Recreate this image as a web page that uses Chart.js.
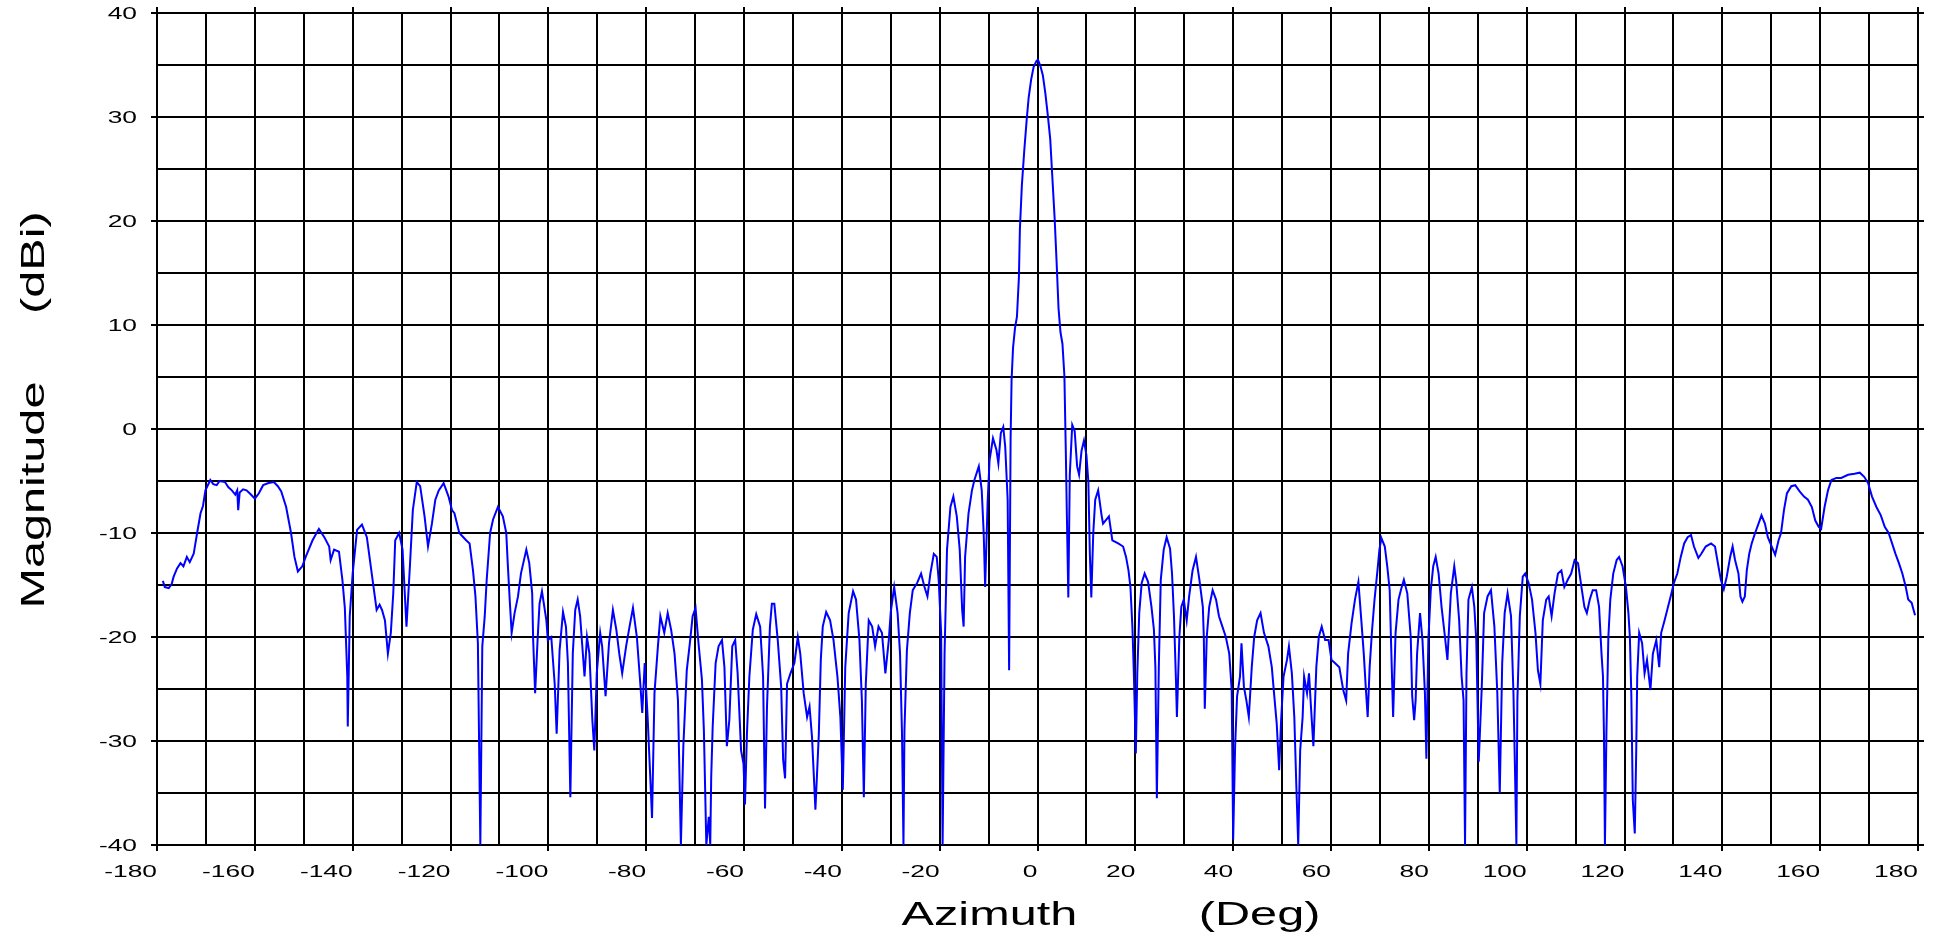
<!DOCTYPE html>
<html lang="en">
<head>
  <meta charset="UTF-8">
  <title>Azimuth Pattern</title>
  <style>
    html, body { margin: 0; padding: 0; background: #fff; }
    #wrap { width: 1942px; height: 938px; }
  </style>
</head>
<body>
  <div id="wrap"><canvas id="patternChart"></canvas></div>

  <script src="https://cdn.jsdelivr.net/npm/chart.js"></script>
  <script>
    const azimuth = [
      -178.8, -178.4, -177.6, -177.0, -176.6, -175.9, -175.2, -174.6, -173.9, -173.3,
      -172.5, -171.8, -171.1, -170.6, -170.1, -169.1, -168.5, -167.8, -167.2, -166.1,
      -165.4, -164.7, -164.0, -163.6, -163.4, -163.1, -162.4, -161.7, -160.8, -160.0,
      -159.2, -158.3, -157.2, -156.1, -155.3, -154.6, -153.6, -152.6, -151.9, -151.2,
      -150.3, -149.6, -148.2, -146.9, -145.8, -144.8, -144.5, -143.8, -142.8, -142.1,
      -141.6, -141.1, -141.0, -140.6, -140.0, -139.1, -138.1, -137.1, -136.1, -135.1,
      -134.5, -134.0, -133.4, -132.8, -132.2, -131.7, -131.3, -130.5, -129.8, -129.0,
      -128.3, -127.7, -126.9, -126.2, -125.3, -124.6, -123.8, -123.1, -122.4, -121.4,
      -120.4, -119.7, -119.2, -118.2, -116.8, -116.1, -115.4, -114.9, -114.4, -113.9,
      -113.5, -113.0, -112.6, -111.9, -111.3, -110.3, -109.3, -108.6, -108.3, -107.9,
      -107.5, -106.9, -106.2, -105.6, -104.5, -103.9, -103.3, -103.1, -102.7, -102.2,
      -101.8, -101.3, -100.4, -100.1, -99.4, -98.7, -98.3, -97.7, -97.0, -96.4,
      -96.0, -95.5, -95.0, -94.5, -94.0, -93.5, -93.1, -92.6, -92.1, -91.6,
      -91.0, -90.6, -90.1, -89.4, -89.0, -88.3, -87.6, -86.8, -86.1, -85.5,
      -84.9, -84.1, -83.4, -82.7, -81.9, -81.2, -80.8, -80.3, -79.7, -78.8,
      -78.3, -77.6, -77.1, -76.3, -75.6, -74.9, -74.2, -73.5, -72.9, -72.4,
      -71.7, -71.0, -70.5, -69.9, -69.3, -68.6, -68.2, -67.7, -67.2, -66.9,
      -66.7, -66.4, -65.8, -65.2, -64.5, -64.0, -63.5, -63.0, -62.4, -61.8,
      -61.3, -60.6, -60.1, -59.8, -59.4, -58.9, -58.2, -57.5, -56.7, -56.1,
      -55.7, -55.3, -54.7, -54.3, -53.8, -53.1, -52.4, -52.0, -51.6, -51.2,
      -50.5, -49.7, -49.0, -48.5, -47.8, -47.1, -46.6, -46.1, -45.4, -44.7,
      -44.3, -43.9, -43.2, -42.4, -41.7, -40.9, -40.3, -39.8, -39.3, -38.6,
      -37.7, -37.1, -36.4, -35.9, -35.5, -35.1, -34.5, -33.8, -33.2, -32.5,
      -31.8, -31.1, -30.4, -30.0, -29.3, -28.6, -28.1, -27.7, -27.4, -27.2,
      -26.7, -26.1, -25.5, -24.6, -23.8, -23.1, -22.5, -21.9, -21.2, -20.6,
      -20.2, -19.7, -19.4, -19.0, -18.5, -17.8, -17.2, -16.5, -15.9, -15.4,
      -15.1, -14.8, -14.1, -13.4, -12.9, -12.0, -11.4, -11.0, -10.7, -10.2,
      -9.8, -9.1, -8.4, -8.0, -7.5, -7.0, -6.6, -6.1, -5.8, -5.5,
      -5.3, -5.0, -4.6, -4.2, -3.8, -3.6, -3.2, -2.7, -2.2, -1.8,
      -1.3, -0.8, -0.2, 0.1, 0.6, 1.1, 1.6, 2.1, 2.6, 3.0,
      3.5, 3.9, 4.3, 4.7, 5.1, 5.5, 5.8, 6.0, 6.3, 6.6,
      7.1, 7.6, 8.1, 8.5, 9.0, 9.5, 10.0, 10.4, 10.7, 11.0,
      11.4, 11.8, 12.4, 13.1, 13.4, 14.6, 15.3, 16.5, 17.5, 18.1,
      18.6, 19.0, 19.4, 19.7, 20.1, 20.4, 20.8, 21.3, 21.9, 22.6,
      23.3, 23.8, 24.1, 24.4, 24.8, 25.2, 25.8, 26.4, 27.1, 27.5,
      27.9, 28.3, 28.5, 29.0, 29.4, 29.9, 30.5, 31.0, 31.7, 32.4,
      33.1, 33.8, 34.0, 34.2, 34.6, 35.1, 35.8, 36.5, 37.1, 37.8,
      38.5, 39.2, 39.7, 40.0, 40.4, 40.8, 41.4, 41.7, 42.2, 42.7,
      43.2, 43.8, 44.3, 44.9, 45.6, 46.3, 47.2, 47.9, 48.3, 48.9,
      49.4, 49.8, 50.3, 51.0, 51.4, 52.0, 52.5, 52.9, 53.3, 53.7,
      54.2, 54.5, 55.1, 55.5, 55.9, 56.4, 57.0, 57.5, 58.1, 58.8,
      59.5, 60.1, 60.8, 61.7, 62.5, 63.1, 63.5, 64.2, 64.9, 65.6,
      66.2, 66.7, 67.1, 67.5, 67.9, 68.4, 68.9, 69.5, 69.9, 70.3,
      71.0, 71.5, 72.0, 72.3, 72.7, 73.2, 73.8, 74.4, 74.9, 75.6,
      76.3, 76.6, 77.0, 77.3, 77.6, 78.2, 78.7, 79.2, 79.5, 79.9,
      80.4, 80.9, 81.4, 82.0, 82.6, 83.3, 83.8, 84.5, 85.2, 85.6,
      86.2, 86.7, 87.1, 87.4, 87.7, 88.1, 88.8, 89.3, 89.7, 90.2,
      90.8, 91.3, 92.0, 92.7, 93.4, 94.0, 94.5, 95.0, 95.5, 96.1,
      96.8, 97.3, 97.6, 97.9, 98.1, 98.6, 99.2, 99.7, 100.4, 101.1,
      101.8, 102.3, 102.8, 103.3, 104.0, 104.5, 105.1, 105.7, 106.4, 107.1,
      107.7, 108.4, 109.1, 109.8, 110.5, 111.2, 111.8, 112.3, 112.9, 113.5,
      114.2, 114.8, 115.3, 115.6, 115.8, 116.0, 116.3, 116.7, 117.1, 117.7,
      118.4, 118.9, 119.6, 120.3, 120.8, 121.1, 121.4, 121.7, 122.1, 122.4,
      122.6, 123.0, 123.6, 124.1, 124.6, 125.3, 125.8, 126.5, 127.1, 127.5,
      128.2, 128.9, 129.6, 130.1, 130.8, 131.5, 132.2, 132.9, 133.6, 134.2,
      135.1, 135.7, 136.6, 137.7, 138.5, 139.2, 139.7, 140.3, 140.9, 141.6,
      142.1, 142.6, 143.3, 143.7, 144.1, 144.6, 145.0, 145.5, 146.0, 146.7,
      147.4, 148.0, 148.7, 149.3, 150.1, 150.8, 151.5, 152.0, 152.6, 153.2,
      154.1, 154.9, 155.8, 156.7, 157.5, 158.3, 159.0, 159.7, 160.2, 160.9,
      161.6, 162.3, 163.3, 164.3, 165.7, 167.0, 168.1, 169.0, 169.8, 170.6,
      171.5, 172.4, 173.2, 174.0, 174.7, 175.4, 176.1, 176.8, 177.5, 178.0,
      178.7, 179.1, 179.4
    ];

    const magnitude = [
      -14.6, -15.2, -15.3, -14.9, -14.2, -13.4, -12.9, -13.2, -12.3, -12.8,
      -12.0, -10.0, -8.1, -7.4, -5.9, -4.9, -5.3, -5.4, -5.0, -5.1,
      -5.6, -5.9, -6.3, -5.9, -7.8, -6.1, -5.8, -5.9, -6.3, -6.7,
      -6.2, -5.4, -5.2, -5.1, -5.5, -6.0, -7.5, -10.0, -12.3, -13.7,
      -13.2, -12.3, -10.7, -9.6, -10.4, -11.3, -12.6, -11.6, -11.8, -14.5,
      -17.2, -23.8, -28.6, -18.0, -13.9, -9.7, -9.2, -10.4, -13.9, -17.4,
      -16.9, -17.4, -18.4, -21.6, -19.6, -15.8, -10.7, -10.0, -11.6, -19.0,
      -13.2, -7.8, -5.1, -5.5, -8.4, -11.3, -9.1, -6.8, -5.9, -5.2,
      -6.5, -7.8, -8.1, -10.0, -10.7, -11.0, -13.6, -16.1, -20.6, -40.0,
      -20.9, -18.0, -14.5, -10.0, -8.7, -7.5, -8.4, -10.0, -12.9, -16.4,
      -19.6, -17.7, -16.1, -13.9, -11.6, -12.9, -15.8, -20.3, -25.4, -20.3,
      -16.8, -15.6, -18.4, -20.3, -20.0, -24.5, -29.3, -21.3, -17.6, -19.0,
      -22.5, -35.4, -21.6, -17.4, -16.4, -18.0, -20.6, -23.8, -20.0, -21.6,
      -28.0, -30.9, -23.5, -19.6, -20.9, -25.7, -20.6, -17.4, -19.3, -21.6,
      -23.5, -20.9, -19.0, -17.2, -20.0, -24.5, -27.3, -22.5, -27.7, -37.4,
      -25.4, -20.9, -18.0, -19.6, -17.7, -19.3, -21.6, -26.1, -40.0, -30.5,
      -23.2, -20.3, -18.0, -17.2, -20.6, -24.1, -29.0, -40.0, -37.3, -40.0,
      -33.4, -28.6, -22.5, -20.9, -20.3, -22.9, -30.5, -28.0, -20.9, -20.3,
      -23.5, -30.9, -32.2, -36.1, -29.3, -23.8, -19.3, -17.8, -19.0, -23.8,
      -36.5, -26.7, -19.0, -16.8, -16.8, -20.3, -24.8, -31.8, -33.6, -24.5,
      -23.5, -22.5, -20.0, -21.6, -25.4, -27.7, -26.7, -29.6, -36.6, -29.3,
      -22.2, -19.0, -17.6, -18.4, -20.3, -23.8, -27.7, -34.7, -22.9, -17.7,
      -15.6, -16.4, -20.3, -26.1, -35.4, -24.5, -18.4, -19.0, -20.9, -19.0,
      -19.6, -23.5, -20.3, -17.6, -15.2, -17.7, -21.6, -29.3, -40.0, -29.0,
      -21.3, -17.7, -15.5, -14.8, -13.9, -15.2, -16.1, -13.9, -12.0, -12.3,
      -14.5, -19.6, -40.0, -21.6, -11.6, -7.5, -6.5, -8.4, -11.6, -17.4,
      -19.0, -12.3, -8.1, -5.9, -4.9, -3.6, -5.9, -10.0, -15.2, -7.1,
      -3.0, -0.9, -2.0, -3.3, -0.4, 0.2, -1.7, -6.8, -23.2, -1.0,
      4.7, 7.8, 9.7, 10.8, 14.6, 19.2, 23.4, 26.8, 29.8, 31.9,
      33.6, 34.8, 35.4, 35.5, 34.9, 34.0, 32.3, 30.2, 27.9, 24.5,
      20.3, 16.1, 11.6, 9.3, 8.2, 5.1, -2.5, -8.2, -16.2, -4.4,
      0.4, -0.2, -3.6, -4.4, -2.1, -1.1, -2.5, -5.1, -12.0, -16.2,
      -10.0, -6.8, -5.9, -8.3, -9.1, -8.4, -10.7, -11.0, -11.3, -12.3,
      -13.6, -15.2, -19.0, -23.5, -31.2, -23.5, -17.7, -14.8, -13.9, -14.7,
      -17.1, -19.3, -22.9, -35.5, -22.9, -14.5, -11.6, -10.4, -11.5, -13.9,
      -18.0, -24.1, -27.7, -20.0, -17.1, -16.4, -18.4, -16.1, -13.6, -12.3,
      -14.5, -17.1, -20.0, -26.9, -20.0, -17.1, -15.5, -16.4, -18.0, -19.0,
      -20.0, -21.6, -25.1, -39.5, -30.5, -25.7, -23.8, -20.6, -24.8, -26.1,
      -27.7, -22.9, -20.0, -18.4, -17.7, -19.6, -20.9, -22.9, -25.1, -28.3,
      -32.8, -28.0, -23.8, -22.2, -20.9, -23.5, -27.7, -34.1, -40.0, -30.9,
      -27.7, -23.8, -25.4, -23.5, -26.7, -30.5, -22.9, -20.0, -19.0, -20.3,
      -20.3, -22.2, -22.5, -22.9, -25.1, -26.1, -21.6, -18.7, -16.4, -14.7,
      -18.4, -21.6, -24.8, -27.7, -22.9, -19.3, -16.4, -13.6, -11.6, -10.5,
      -11.3, -13.2, -15.5, -20.9, -27.7, -19.6, -16.4, -15.3, -14.5, -15.8,
      -20.0, -25.7, -28.0, -26.1, -21.6, -17.7, -20.3, -25.4, -31.7, -20.3,
      -15.5, -13.2, -12.3, -13.9, -17.1, -20.0, -22.2, -15.8, -13.2, -14.7,
      -18.4, -23.8, -26.1, -40.0, -23.5, -16.4, -15.2, -17.1, -20.3, -32.0,
      -25.1, -17.7, -16.1, -15.5, -19.0, -25.4, -35.0, -22.5, -17.7, -15.8,
      -18.0, -25.4, -32.5, -40.0, -26.1, -18.0, -14.2, -13.9, -14.8, -16.4,
      -19.6, -23.2, -24.5, -18.4, -16.4, -16.1, -18.0, -15.8, -13.9, -13.6,
      -15.2, -14.5, -13.9, -12.6, -12.9, -15.2, -17.1, -17.7, -16.4, -15.5,
      -15.5, -17.1, -21.6, -23.8, -29.3, -40.0, -29.3, -20.0, -16.4, -13.9,
      -12.6, -12.3, -13.2, -15.2, -17.7, -20.0, -25.7, -35.7, -38.9, -30.9,
      -23.8, -19.6, -20.6, -23.5, -22.2, -25.1, -21.6, -20.3, -22.9, -19.6,
      -18.4, -17.1, -15.8, -14.8, -13.9, -12.3, -11.0, -10.4, -10.2, -11.3,
      -12.4, -12.0, -11.3, -11.0, -11.3, -13.2, -14.5, -15.4, -14.2, -12.3,
      -11.3, -12.6, -13.9, -16.1, -16.6, -16.1, -13.6, -12.0, -11.0, -10.0,
      -9.1, -8.3, -9.1, -10.4, -11.3, -12.1, -10.7, -10.0, -7.8, -6.2,
      -5.5, -5.4, -6.0, -6.5, -6.8, -7.5, -8.8, -9.4, -9.6, -7.5,
      -5.9, -4.9, -4.7, -4.7, -4.4, -4.3, -4.2, -4.6, -5.2, -6.5,
      -7.5, -8.3, -9.4, -10.0, -11.0, -12.0, -12.9, -13.9, -15.2, -16.4,
      -16.7, -17.4, -17.9
    ];

    // labelled tick values
    const xTickLabels = [-180, -160, -140, -120, -100, -80, -60, -40, -20, 0,
                         20, 40, 60, 80, 100, 120, 140, 160, 180];
    const yTickLabels = [-40, -30, -20, -10, 0, 10, 20, 30, 40];

    const xTitle = 'Azimuth         (Deg)';
    const yTitle = 'Magnitude     (dBi)';

    // the original uses a wide sans face; stretch the text along its baseline
    function wideText(ctx, text, x, y, sx, align, angle) {
      ctx.save();
      ctx.translate(x, y);
      if (angle) ctx.rotate(angle);
      ctx.scale(sx, 1);
      ctx.textAlign = align;
      ctx.fillText(text, 0, 0);
      ctx.restore();
    }

    const labelPlugin = {
      id: 'wideLabels',
      afterDraw(chart) {
        const { ctx, chartArea, scales } = chart;
        ctx.save();
        ctx.fillStyle = '#000';
        ctx.textBaseline = 'alphabetic';

        ctx.font = '17px "Liberation Sans", Arial, sans-serif';
        xTickLabels.forEach(v => {
          wideText(ctx, String(v), scales.x.getPixelForValue(v), chartArea.bottom + 32, 1.55, 'right');
        });
        yTickLabels.forEach(v => {
          wideText(ctx, String(v), chartArea.left - 20, scales.y.getPixelForValue(v) + 6, 1.55, 'right');
        });

        ctx.font = '34px "Liberation Sans", Arial, sans-serif';
        wideText(ctx, xTitle, 1111, chartArea.bottom + 80, 1.43, 'center');
        wideText(ctx, yTitle, 44, 410, 1.43, 'center', -Math.PI / 2);
        ctx.restore();
      }
    };

    const black = '#000000';
    const clear = 'rgba(0,0,0,0)';

    const ctx = document.getElementById('patternChart').getContext('2d');
    new Chart(ctx, {
      type: 'line',
      data: {
        datasets: [{
          label: 'Azimuth cut',
          data: azimuth.map((a, i) => ({ x: a, y: magnitude[i] })),
          borderColor: '#0000ff',
          borderWidth: 2,
          pointRadius: 0,
          tension: 0,
          fill: false
        }]
      },
      options: {
        responsive: true,
        maintainAspectRatio: false,
        animation: false,
        layout: { padding: { left: 151, right: 18, top: 7, bottom: 87 } },
        plugins: {
          legend: { display: false },
          tooltip: { enabled: false }
        },
        scales: {
          x: {
            type: 'linear', position: 'bottom', min: -180, max: 180,
            ticks: { display: false, stepSize: 10 },
            grid: {
              color: black, lineWidth: 2, tickLength: 6,
              tickColor: c => (c.tick && c.tick.value % 20 === 0) ? black : clear
            },
            border: { color: black, width: 2 }
          },
          xTop: {
            type: 'linear', position: 'top', min: -180, max: 180,
            ticks: { display: false, stepSize: 20 },
            grid: { drawOnChartArea: false, color: black, lineWidth: 2, tickLength: 6 },
            border: { color: black, width: 2 }
          },
          y: {
            type: 'linear', position: 'left', min: -40, max: 40,
            ticks: { display: false, stepSize: 5 },
            grid: {
              color: black, lineWidth: 2, tickLength: 6,
              tickColor: c => (c.tick && c.tick.value % 10 === 0) ? black : clear
            },
            border: { color: black, width: 2 }
          },
          yRight: {
            type: 'linear', position: 'right', min: -40, max: 40,
            ticks: { display: false, stepSize: 10 },
            grid: { drawOnChartArea: false, color: black, lineWidth: 2, tickLength: 6 },
            border: { color: black, width: 2 }
          }
        }
      },
      plugins: [labelPlugin]
    });
  </script>
</body>
</html>
